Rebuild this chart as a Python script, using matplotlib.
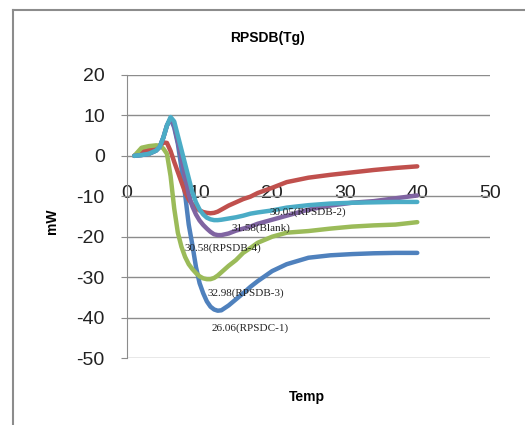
import numpy as np
import matplotlib.pyplot as plt
import matplotlib as mpl
from matplotlib.lines import Line2D

mpl.rcParams['font.family'] = 'Liberation Sans'
mpl.rcParams['axes.unicode_minus'] = False

# temperature points shared by all runs
temp = [1, 2, 3, 4, 4.5, 5, 5.5, 6, 6.5, 7, 7.5, 8, 8.5, 9, 9.5, 10, 10.5,
        11, 11.5, 12, 12.5, 13, 14, 15, 16, 17, 18, 20, 22, 25, 28, 31, 34, 37, 40]

blue = [0, 0.2, 0.5, 1.3, 2.2, 4.5, 7.5, 9.2, 7, 3, -3, -9.5, -17, -22, -27.5, -31.5, -34,
        -36, -37.3, -38, -38.3, -38.2, -37, -35.5, -34, -32.4, -31, -28.5, -26.8, -25.2, -24.6, -24.3, -24.1, -24, -24]
red = [0, 1, 1.5, 1.8, 2.3, 3.3, 3.2, 1.2, -1.5, -4, -6.5, -9, -10.8, -12, -12.9, -13.5, -13.9,
       -14.1, -14.2, -14.1, -13.8, -13.3, -12.3, -11.5, -10.7, -10.1, -9.2, -7.9, -6.5, -5.4, -4.7, -4.1, -3.5, -3, -2.6]
green = [0, 2, 2.4, 2.6, 2.5, 1.8, 0.5, -5, -13, -19, -22.5, -25, -26.8, -28, -29, -29.8, -30.3,
         -30.5, -30.5, -30.2, -29.6, -28.8, -27.2, -25.8, -24, -22.8, -21.5, -20, -19, -18.6, -18, -17.5, -17.2, -17, -16.4]
purple = [0, 0.2, 0.5, 1.3, 2.2, 4.5, 7.5, 9.2, 7.5, 3.5, -0.5, -5, -9.5, -12.5, -14.5, -16, -17.1,
          -18, -18.8, -19.4, -19.6, -19.6, -19.2, -18.5, -18, -17.5, -16.8, -15.8, -14.8, -13.3, -12.3, -11.6, -11.2, -10.5, -9.8]
cyan = [0, 0.2, 0.5, 1.3, 2.2, 4.5, 7.5, 9.6, 8.5, 5, 1.5, -2, -5.5, -9, -11.5, -13.3, -14.5,
        -15.3, -15.7, -15.9, -15.9, -15.8, -15.5, -15.2, -14.8, -14.3, -14, -13.5, -12.8, -12.2, -11.8, -11.6, -11.5, -11.4, -11.4]

# annotations: text, x, y
notes = ['30.05(RPSDB-2)', '31.58(Blank)', '30.58(RPSDB-4)', '32.98(RPSDB-3)', '26.06(RPSDC-1)']
note_x = [24.9, 18.5, 13.2, 16.3, 17.0]
note_y = [-13.9, -17.8, -22.8, -33.9, -42.6]

xticks = [0, 10, 20, 30, 40, 50]
yticks = [20, 10, 0, -10, -20, -30, -40, -50]

fig = plt.figure(figsize=(5.25, 4.25), dpi=100)
ax = fig.add_axes([0.242, 0.1576, 0.691, 0.666])

series = [(blue, '#4F81BD'), (red, '#C0504D'), (green, '#9BBB59'),
          (purple, '#8064A2'), (cyan, '#4BACC6')]
for vals, col in series:
    ax.plot(temp, vals, color=col, lw=3.2, solid_capstyle='round',
            solid_joinstyle='round', zorder=3)

ax.set_xlim(0, 50)
ax.set_ylim(-50, 20)
ax.set_xticks(xticks)
ax.set_yticks(yticks)
ax.grid(axis='y', color='#8c8c8c', lw=1)
ax.set_axisbelow(True)

for s in ['top', 'right', 'bottom']:
    ax.spines[s].set_visible(False)
ax.spines['left'].set_color('#8c8c8c')
ax.spines['bottom'].set_position(('data', 0))

ax.tick_params(axis='y', length=4, color='#8c8c8c', pad=12, labelsize=14, labelcolor='#222222')
ax.tick_params(axis='x', length=0, pad=21, labelsize=14, labelcolor='#222222')

for t, x, y in zip(notes, note_x, note_y):
    ax.text(x, y, t, ha='center', va='center', fontsize=8,
            family='Liberation Serif', color='#222222', zorder=4)

fig.text(0.51, 0.91, 'RPSDB(Tg)', ha='center', va='center', fontsize=10, fontweight='bold')
fig.text(0.099, 0.48, 'mW', ha='center', va='center', rotation=90, fontsize=10, fontweight='bold')
fig.text(0.585, 0.066, 'Temp', ha='center', va='center', fontsize=10, fontweight='bold')

# outer chart frame
fig.add_artist(Line2D([13 / 525, 13 / 525], [0, 1 - 10 / 425], color='#8c8c8c', lw=1.5))
fig.add_artist(Line2D([13 / 525, 1], [1 - 10 / 425, 1 - 10 / 425], color='#8c8c8c', lw=1.5))

fig.savefig('out.png', dpi=100)
